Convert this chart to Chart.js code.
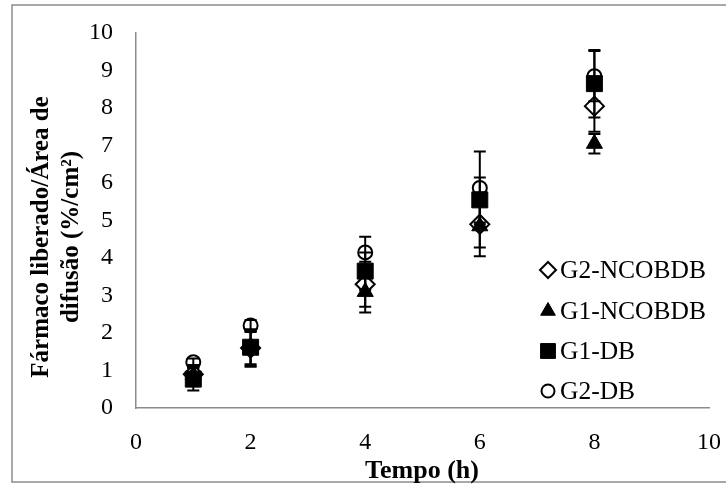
<!DOCTYPE html>
<html>
<head>
<meta charset="utf-8">
<script src="https://cdn.jsdelivr.net/npm/chart.js@4.4.1/dist/chart.umd.min.js"></script>
<style>
  html, body { margin: 0; padding: 0; background: #fff; }
</style>
</head>
<body>
<canvas id="mycanvas" width="726" height="484"></canvas>
<script>
// tempo (h)
var tempo = [1, 2, 4, 6, 8];

// valores medios e desvios de cada grupo
var g2Ncobdb = [0.9, 1.6, 3.3, 4.9, 8.05];
var g2NcobdbErr = [0.25, 0.5, 0.6, 0.85, 0.68];
var g1Ncobdb = [0.88, 1.58, 3.1, 4.85, 7.05];
var g1NcobdbErr = [0.2, 0.45, 0.55, 0.57, 0.26];
var g1Db = [0.77, 1.62, 3.65, 5.55, 8.65];
var g1DbErr = [0.3, 0.45, 0.5, 0.6, 0.9];
var g2Db = [1.22, 2.2, 4.15, 5.87, 8.85];
var g2DbErr = [0.1, 0.15, 0.42, 0.97, 0.67];

var xTicks = [0, 2, 4, 6, 8, 10];
var yTicks = [0, 1, 2, 3, 4, 5, 6, 7, 8, 9, 10];

var serif = "'Liberation Serif', 'Times New Roman', serif";

function pontos(ys, errs) {
  var out = [];
  for (var i in tempo) {
    out.push({x: tempo[i], y: ys[i], err: errs[i]});
  }
  return out;
}

var series = [
  {label: "G2-NCOBDB", data: pontos(g2Ncobdb, g2NcobdbErr), pointStyle: "rectRot", pointRadius: 9.5, pointBackgroundColor: "#fff", pointBorderWidth: 2, order: 3, legR: 8},
  {label: "G1-NCOBDB", data: pontos(g1Ncobdb, g1NcobdbErr), pointStyle: "triangle", pointRadius: 9.3, pointBackgroundColor: "#000", pointBorderWidth: 1, order: 2, legR: 8.5},
  {label: "G1-DB", data: pontos(g1Db, g1DbErr), pointStyle: "rect", pointRadius: 11.3, pointBackgroundColor: "#000", pointBorderWidth: 1, order: 1, legR: 10.5},
  {label: "G2-DB", data: pontos(g2Db, g2DbErr), pointStyle: "circle", pointRadius: 7, pointBackgroundColor: "#fff", pointBorderWidth: 2, order: 4, legR: 6.5}
];

var datasets = [];
for (var i in series) {
  var s = series[i];
  datasets.push({
    label: s.label,
    data: s.data,
    showLine: false,
    pointStyle: s.pointStyle,
    pointRadius: s.pointRadius,
    pointHoverRadius: s.pointRadius,
    pointBackgroundColor: s.pointBackgroundColor,
    pointBorderColor: "#000",
    pointBorderWidth: s.pointBorderWidth,
    order: s.order
  });
}

// barras de erro (desenhadas por cima dos marcadores)
var errorBars = {
  id: "errorBars",
  afterDatasetsDraw: function(chart) {
    var ctx = chart.ctx;
    var xs = chart.scales.x, ys = chart.scales.y;
    ctx.save();
    ctx.strokeStyle = "#000";
    ctx.lineWidth = 2;
    chart.data.datasets.forEach(function(ds) {
      ds.data.forEach(function(p) {
        var px = xs.getPixelForValue(p.x);
        var top = ys.getPixelForValue(p.y + p.err);
        var bot = ys.getPixelForValue(p.y - p.err);
        ctx.beginPath();
        ctx.moveTo(px, top); ctx.lineTo(px, bot);
        ctx.moveTo(px - 6, top); ctx.lineTo(px + 6, top);
        ctx.moveTo(px - 6, bot); ctx.lineTo(px + 6, bot);
        ctx.stroke();
      });
    });
    ctx.restore();
  }
};

// moldura, titulos dos eixos e legenda
var extras = {
  id: "extras",
  afterDraw: function(chart) {
    var ctx = chart.ctx;
    ctx.save();
    ctx.strokeStyle = "#8c8c8c";
    ctx.lineWidth = 1.5;
    ctx.strokeRect(12, 5, 730, 477);

    ctx.fillStyle = "#000";
    ctx.textAlign = "center";
    ctx.textBaseline = "middle";
    ctx.font = "bold 26px " + serif;
    ctx.fillText("Tempo (h)", 422, 471);

    ctx.font = "bold 25px " + serif;
    ctx.save();
    ctx.translate(42, 237);
    ctx.rotate(-Math.PI / 2);
    ctx.fillText("Fármaco liberado/Área de", 0, 0);
    ctx.fillText("difusão (%/cm²)", 0, 30);
    ctx.restore();

    var rows = [270, 311, 351, 391];
    ctx.font = "25.5px " + serif;
    ctx.textAlign = "left";
    for (var i in series) {
      var s = series[i];
      ctx.fillStyle = s.pointBackgroundColor;
      ctx.strokeStyle = "#000";
      ctx.lineWidth = s.pointBorderWidth;
      Chart.helpers.drawPoint(ctx, {pointStyle: s.pointStyle, radius: s.legR, rotation: 0, borderWidth: s.pointBorderWidth}, 548, rows[i]);
      ctx.fillStyle = "#000";
      ctx.fillText(s.label, 560, rows[i] + 1);
    }
    ctx.restore();
  }
};

var ctx = document.getElementById("mycanvas");

var grafico = new Chart(ctx, {
  type: "scatter",
  data: {datasets: datasets},
  plugins: [errorBars, extras],
  options: {
    responsive: false,
    animation: false,
    devicePixelRatio: 1,
    layout: {padding: {top: 33, right: 17, left: 0, bottom: 0}},
    plugins: {legend: {display: false}, tooltip: {enabled: false}},
    scales: {
      x: {
        type: "linear",
        min: 0, max: 10,
        afterBuildTicks: function(scale) { scale.ticks = xTicks.map(function(v) { return {value: v}; }); },
        afterFit: function(scale) { scale.height = 76; scale.paddingLeft = 0; scale.paddingRight = 0; },
        grid: {display: false, drawTicks: false},
        border: {display: true, color: "#8c8c8c", width: 1.5},
        ticks: {color: "#000", padding: 20, maxRotation: 0, font: {family: serif, size: 24}}
      },
      y: {
        min: 0, max: 10,
        afterBuildTicks: function(scale) { scale.ticks = yTicks.map(function(v) { return {value: v}; }); },
        afterFit: function(scale) { scale.width = 136; scale.paddingTop = 0; scale.paddingBottom = 0; },
        grid: {display: false, drawTicks: false},
        border: {display: true, color: "#8c8c8c", width: 1.5},
        ticks: {color: "#000", padding: 23, font: {family: serif, size: 24}}
      }
    }
  }
});
</script>
</body>
</html>
